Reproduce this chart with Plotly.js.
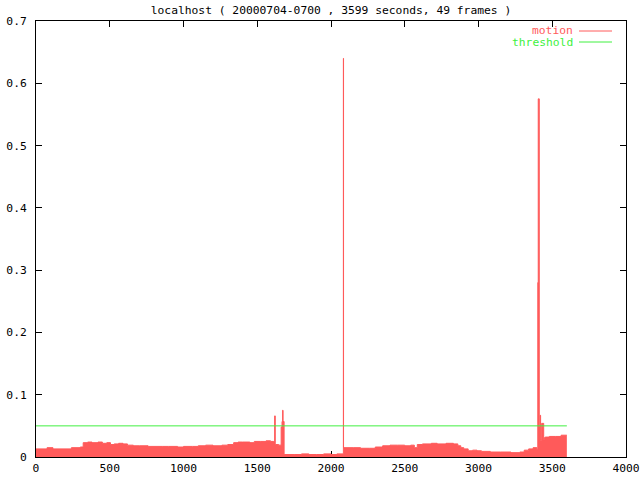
<!DOCTYPE html>
<html>
<head>
<meta charset="utf-8">
<script src="https://cdn.plot.ly/plotly-3.0.1.min.js"></script>
<style>html,body{margin:0;padding:0;background:#fff;}#chart{width:640px;height:480px;}</style>
</head>
<body>
<div id="chart"></div>
<script>
// motion samples (seconds, motion level), drawn as steps
const motionTime = [0, 75, 115, 240, 300, 320, 350, 380, 420, 450, 480, 505, 530, 560, 590, 620, 660, 700, 760, 800, 860, 900, 960, 1000, 1060, 1100, 1150, 1200, 1260, 1300, 1340, 1370, 1400, 1450, 1480, 1520, 1560, 1590, 1612, 1618, 1622, 1645, 1662, 1668, 1672, 1675, 1682, 1750, 1800, 1850, 1900, 1950, 2000, 2040, 2084, 2085, 2088, 2150, 2200, 2260, 2300, 2350, 2400, 2450, 2500, 2540, 2565, 2585, 2620, 2680, 2720, 2780, 2830, 2860, 2880, 2900, 2930, 2960, 2990, 3020, 3080, 3150, 3220, 3280, 3310, 3340, 3370, 3396, 3402, 3405, 3412, 3418, 3421, 3428, 3442, 3446, 3452, 3480, 3520, 3560, 3599];
const motionValue = [0.013, 0.015, 0.013, 0.015, 0.016, 0.023, 0.024, 0.023, 0.024, 0.022, 0.023, 0.020, 0.021, 0.022, 0.021, 0.019, 0.018, 0.018, 0.017, 0.017, 0.017, 0.017, 0.016, 0.017, 0.017, 0.018, 0.019, 0.018, 0.019, 0.020, 0.023, 0.024, 0.024, 0.023, 0.025, 0.025, 0.026, 0.025, 0.024, 0.066, 0.020, 0.019, 0.048, 0.057, 0.075, 0.057, 0.004, 0.004, 0.005, 0.004, 0.004, 0.005, 0.004, 0.005, 0.640, 0.015, 0.015, 0.015, 0.014, 0.014, 0.016, 0.018, 0.019, 0.019, 0.018, 0.019, 0.015, 0.020, 0.021, 0.022, 0.021, 0.022, 0.021, 0.018, 0.015, 0.013, 0.010, 0.011, 0.010, 0.009, 0.008, 0.008, 0.007, 0.008, 0.011, 0.013, 0.015, 0.012, 0.280, 0.575, 0.048, 0.067, 0.027, 0.054, 0.028, 0.031, 0.032, 0.033, 0.033, 0.035, 0.035];
const thresholdTime = [0, 3599];
const thresholdValue = [0.05, 0.05];
const xTicks = [0, 500, 1000, 1500, 2000, 2500, 3000, 3500, 4000];
const yTicks = [0, 0.1, 0.2, 0.3, 0.4, 0.5, 0.6, 0.7];
const yTickText = ["0", "0.1", "0.2", "0.3", "0.4", "0.5", "0.6", "0.7"];
const seriesNames = ["motion", "threshold"];

const RED = "#ff5a5a";
const GREEN = "#40f040";
const FONT = "DejaVu Sans Mono, monospace";
const FS = 11.3;

const traces = [
  {
    x: motionTime, y: motionValue, type: "scatter", mode: "lines",
    line: {shape: "hv", color: RED, width: 1},
    fill: "tozeroy", fillcolor: RED, name: seriesNames[0], showlegend: false
  },
  {
    x: thresholdTime, y: thresholdValue, type: "scatter", mode: "lines",
    line: {color: GREEN, width: 1}, name: seriesNames[1], showlegend: false
  }
];

const axisCommon = {
  showgrid: false, zeroline: false, showline: true, linecolor: "#000", linewidth: 1,
  mirror: "ticks", ticks: "inside", ticklen: 6, tickcolor: "#000", tickwidth: 1,
  tickfont: {family: FONT, size: FS, color: "#000"}, layer: "below traces"
};

const layout = {
  width: 640, height: 480,
  margin: {l: 36, r: 14, t: 21, b: 23, pad: 0},
  paper_bgcolor: "#fff", plot_bgcolor: "#fff",
  title: {
    text: "localhost ( 20000704-0700 , 3599 seconds, 49 frames )",
    font: {family: FONT, size: FS, color: "#000"},
    x: 0.5, xanchor: "center", xref: "paper",
    y: 1 - 10 / 480, yanchor: "middle", yref: "container"
  },
  xaxis: Object.assign({}, axisCommon, {range: [0, 4000], tickvals: xTicks, ticktext: xTicks.map(String)}),
  yaxis: Object.assign({}, axisCommon, {range: [0, 0.7], tickvals: yTicks, ticktext: yTickText, ticklabelstandoff: 6}),
  showlegend: false,
  annotations: [
    {xref: "paper", yref: "paper", x: (575 - 36) / 590, y: (457 - 31) / 436, xanchor: "right", yanchor: "middle",
     text: seriesNames[0], showarrow: false, font: {family: FONT, size: FS, color: RED}},
    {xref: "paper", yref: "paper", x: (575 - 36) / 590, y: (457 - 42) / 436, xanchor: "right", yanchor: "middle",
     text: seriesNames[1], showarrow: false, font: {family: FONT, size: FS, color: GREEN}}
  ],
  shapes: [
    {type: "line", xref: "paper", yref: "paper", x0: (579 - 36) / 590, x1: (612 - 36) / 590, y0: (457 - 31) / 436, y1: (457 - 31) / 436,
     line: {color: RED, width: 1}},
    {type: "line", xref: "paper", yref: "paper", x0: (579 - 36) / 590, x1: (612 - 36) / 590, y0: (457 - 42) / 436, y1: (457 - 42) / 436,
     line: {color: GREEN, width: 1}}
  ]
};

Plotly.newPlot("chart", traces, layout, {staticPlot: true, displayModeBar: false});
</script>
</body>
</html>
